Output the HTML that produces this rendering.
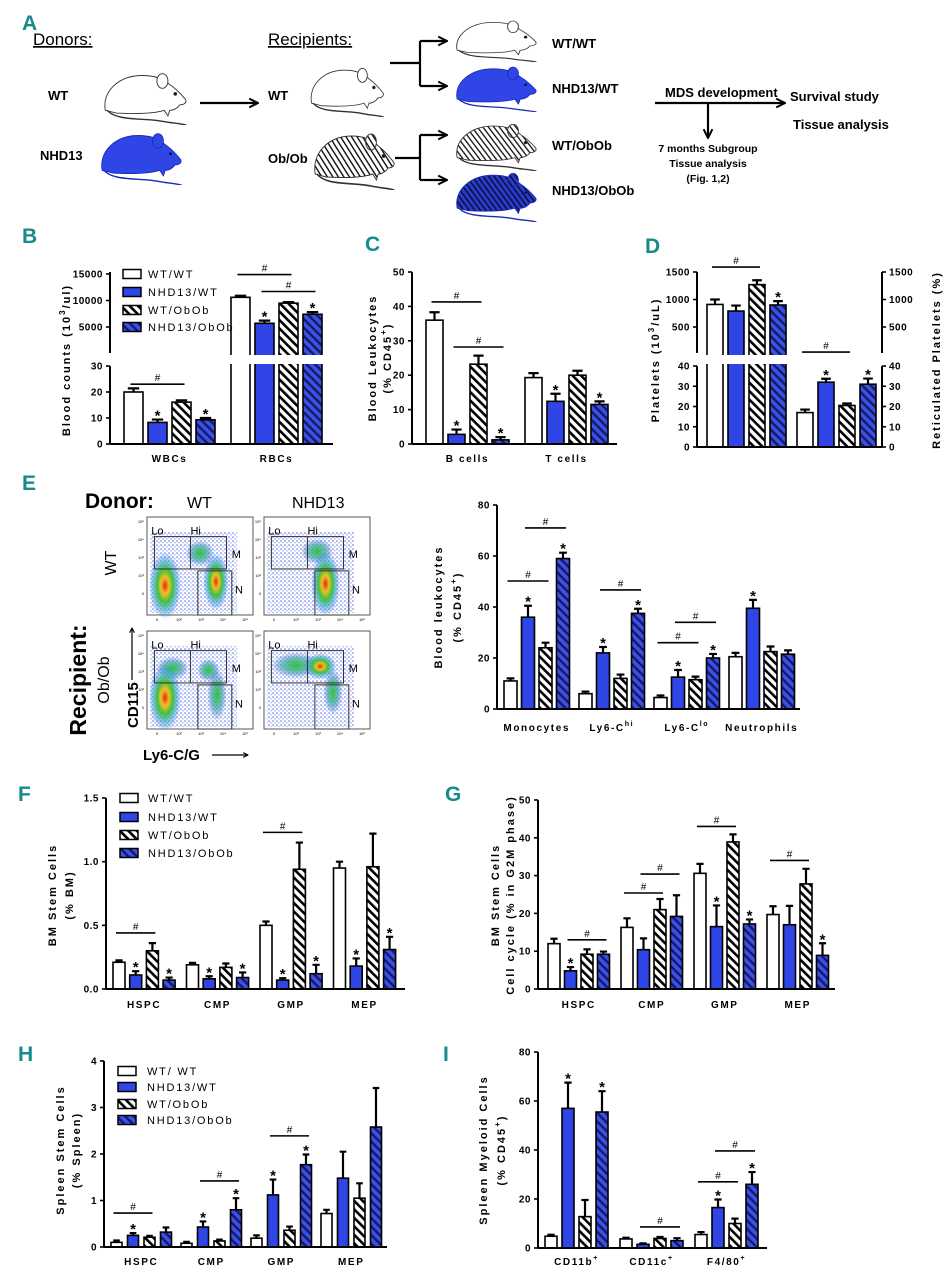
<!DOCTYPE html>
<html><head><meta charset="utf-8">
<style>
body{margin:0;background:#fff;width:951px;height:1280px;overflow:hidden}
svg{display:block;font-family:"Liberation Sans",sans-serif}
.t{font-weight:bold;font-size:10px;letter-spacing:1.6px}
.tk{font-weight:bold;font-size:10px;letter-spacing:0.5px}
.ax{font-weight:bold;font-size:11px;letter-spacing:2px}
.let{font-family:"Liberation Sans Narrow","Liberation Sans",sans-serif;font-weight:bold;font-size:21px;fill:#178a8c}
.lg{font-size:11px;letter-spacing:1.8px}
.na{font-family:"Liberation Sans Narrow","Liberation Sans",sans-serif;font-weight:bold;font-size:13px}
</style></head>
<body>
<svg id="fig" width="951" height="1280" viewBox="0 0 951 1280">
<defs>
<pattern id="hatchW" patternUnits="userSpaceOnUse" width="6" height="6" patternTransform="rotate(-45)">
<rect width="6" height="6" fill="#fff"/><rect width="2.6" height="6" fill="#000"/></pattern>
<pattern id="hatchB" patternUnits="userSpaceOnUse" width="6" height="6" patternTransform="rotate(-45)">
<rect width="6" height="6" fill="#3b50e8"/><rect width="2.4" height="6" fill="#151a60"/></pattern>
<pattern id="hatchM" patternUnits="userSpaceOnUse" width="5" height="5" patternTransform="rotate(-35)">
<rect width="5" height="5" fill="#fff"/><rect width="1.5" height="5" fill="#111"/></pattern>
<pattern id="hatchMB" patternUnits="userSpaceOnUse" width="5" height="5" patternTransform="rotate(-35)">
<rect width="5" height="5" fill="#2a3ccc"/><rect width="1.8" height="5" fill="#0b1040"/></pattern>
<pattern id="dots" patternUnits="userSpaceOnUse" width="4" height="4">
<rect width="4" height="4" fill="#fff"/><circle cx="1" cy="1" r="0.8" fill="#3a5ad8"/><circle cx="3" cy="2.8" r="0.7" fill="#6a86e8"/></pattern>
<radialGradient id="hot"><stop offset="0" stop-color="#e02818"/><stop offset="0.25" stop-color="#f0c020"/><stop offset="0.5" stop-color="#40c040"/><stop offset="0.8" stop-color="#30a0e0" stop-opacity="0.5"/><stop offset="1" stop-color="#3050e0" stop-opacity="0"/></radialGradient>
<radialGradient id="warm"><stop offset="0" stop-color="#38c038"/><stop offset="0.5" stop-color="#40b0a0" stop-opacity="0.8"/><stop offset="1" stop-color="#3050e0" stop-opacity="0"/></radialGradient>
<marker id="ah" viewBox="0 0 10 10" refX="9" refY="5" markerWidth="5" markerHeight="5" orient="auto"><path d="M1,1 L9,5 L1,9" fill="none" stroke="#000" stroke-width="1.8"/></marker>
<symbol id="mouse" viewBox="0 0 100 60" preserveAspectRatio="none">
<path d="M8,44 C4,24 22,6 48,6 C62,6 72,10 78,16 C84,20 90,26 95,32 C97,35 94,38 89,38 C86,42 82,44 78,44 L76,50 L72,44 C60,48 40,48 20,47 Z" stroke-width="1"/>
<ellipse cx="70" cy="12" rx="6" ry="8" stroke-width="1"/>
<circle cx="84" cy="26" r="1.5" fill="#000"/>
<path d="M10,44 C20,56 50,52 70,56 C80,58 88,58 96,60" fill="none" stroke-width="1.6"/>
</symbol>
</defs>

<g>
<text class="let" x="22" y="30">A</text>
<text x="33" y="45" font-size="17" text-decoration="underline">Donors:</text>
<text x="268" y="45" font-size="17" text-decoration="underline">Recipients:</text>
<text class="na" x="48" y="100">WT</text>
<text class="na" x="40" y="160">NHD13</text>
<text class="na" x="268" y="100">WT</text>
<text class="na" x="268" y="163">Ob/Ob</text>
<use href="#mouse" x="98" y="70" width="92" height="55" fill="#fff" stroke="#333"/>
<use href="#mouse" x="95" y="130" width="90" height="55" fill="#2f45e6" stroke="#1a2bb8"/>
<use href="#mouse" x="305" y="65" width="82" height="52" fill="#fff" stroke="#333"/>
<use href="#mouse" x="308" y="130" width="90" height="60" fill="url(#hatchM)" stroke="#333"/>
<use href="#mouse" x="450" y="18" width="90" height="44" fill="#fff" stroke="#333"/>
<use href="#mouse" x="450" y="64" width="90" height="48" fill="#2f45e6" stroke="#1a2bb8"/>
<use href="#mouse" x="450" y="121" width="90" height="50" fill="url(#hatchM)" stroke="#333"/>
<use href="#mouse" x="450" y="170" width="90" height="52" fill="url(#hatchMB)" stroke="#1a2bb8"/>
<line x1="200" y1="103" x2="258" y2="103" stroke="#000" stroke-width="2.2" marker-end="url(#ah)"/>
<g stroke="#000" stroke-width="2.2" fill="none">
<line x1="390" y1="63" x2="420" y2="63"/><line x1="420" y1="41" x2="420" y2="86"/>
<line x1="420" y1="41" x2="447" y2="41" marker-end="url(#ah)"/><line x1="420" y1="86" x2="447" y2="86" marker-end="url(#ah)"/>
<line x1="395" y1="158" x2="420" y2="158"/><line x1="420" y1="135" x2="420" y2="180"/>
<line x1="420" y1="135" x2="447" y2="135" marker-end="url(#ah)"/><line x1="420" y1="180" x2="447" y2="180" marker-end="url(#ah)"/>
<line x1="655" y1="103" x2="785" y2="103" marker-end="url(#ah)"/>
<line x1="708" y1="103" x2="708" y2="138" marker-end="url(#ah)"/>
</g>
<text class="na" x="552" y="48">WT/WT</text>
<text class="na" x="552" y="93">NHD13/WT</text>
<text class="na" x="552" y="150">WT/ObOb</text>
<text class="na" x="552" y="195">NHD13/ObOb</text>
<text class="na" x="665" y="97">MDS development</text>
<text class="na" x="790" y="101">Survival study</text>
<text class="na" x="793" y="129">Tissue analysis</text>
<text x="708" y="152" font-size="10.5" font-weight="bold" text-anchor="middle">7 months Subgroup</text>
<text x="708" y="167" font-size="10.5" font-weight="bold" text-anchor="middle">Tissue analysis</text>
<text x="708" y="182" font-size="10.5" font-weight="bold" text-anchor="middle">(Fig. 1,2)</text>
</g>

<text class="let" x="22" y="243">B</text>
<text class="let" x="365" y="251">C</text>
<text class="let" x="645" y="253">D</text>
<text class="let" x="22" y="490">E</text>
<text class="let" x="18" y="801">F</text>
<text class="let" x="445" y="801">G</text>
<text class="let" x="18" y="1061">H</text>
<text class="let" x="443" y="1061">I</text>

<g>
<text x="85" y="508" font-size="21" font-weight="bold">Donor:</text>
<text x="187" y="508" font-size="16">WT</text>
<text x="292" y="508" font-size="16">NHD13</text>
<text transform="translate(116,563) rotate(-90)" font-size="16" text-anchor="middle">WT</text>
<text transform="translate(86,680) rotate(-90)" font-size="23" font-weight="bold" text-anchor="middle">Recipient:</text>
<text transform="translate(109,680) rotate(-90)" font-size="16" text-anchor="middle">Ob/Ob</text>
<text transform="translate(138,728) rotate(-90)" font-size="15" font-weight="bold" text-anchor="start">CD115</text>
<line x1="132" y1="680" x2="132" y2="628" stroke="#000" stroke-width="1.2" marker-end="url(#ah)"/>
<text x="143" y="760" font-size="15" font-weight="bold">Ly6-C/G</text>
<line x1="212" y1="755" x2="248" y2="755" stroke="#000" stroke-width="1.2" marker-end="url(#ah)"/>
</g>
</svg>

<script>
const SVGNS='http://www.w3.org/2000/svg';
const fig=document.getElementById('fig');
function mk(tag,attrs,parent){const e=document.createElementNS(SVGNS,tag);for(const k in attrs)e.setAttribute(k,attrs[k]);(parent||fig).appendChild(e);return e;}
const FILLS=['#ffffff','#2f45e6','url(#hatchW)','url(#hatchB)'];
const SERIES_NAMES=['wt-wt','nhd13-wt','wt-obob','nhd13-obob'];

const bGroups=['WBCs','RBCs'];
const bVals=[[20,8.3,16.1,9.3],[10600,5700,9500,7400]];
const bErr=[[1.4,1.1,0.7,0.7],[300,500,200,400]];
const bStars=[[0,1],[0,3],[1,1],[1,3]];
const bHash=[[0,0,2,23],[1,0,2,14900],[1,1,3,11700]];
const bTicks=[0,10,20,30,5000,10000,15000];

const cGroups=['B cells','T cells'];
const cVals=[[36,2.8,23.2,1.2],[19.3,12.4,20,11.5]];
const cErr=[[2.3,1.4,2.5,0.8],[1.3,2.2,1.3,0.9]];
const cStars=[[0,1],[0,3],[1,1],[1,3]];
const cHash=[[0,0,2,41.3],[0,1,3,28.2]];
const cTicks=[0,10,20,30,40,50];

const dGroups=['',''];
const dVals=[[910,790,1270,900],[17,32,20.5,31]];
const dErr=[[90,100,80,70],[1.5,1.7,1,2.8]];
const dStars=[[0,3],[1,1],[1,3]];
const dHash=[[0,0,2,1590],[1,0,2,44]];
const dTicks=[0,10,20,30,40,500,1000,1500];

const eGroups=['Monocytes','Ly6-C^hi','Ly6-C^lo','Neutrophils'];
const eVals=[[11,36,24,59],[6,22,12,37.5],[4.5,12.5,11.5,20],[20.5,39.5,22.5,21.5]];
const eErr=[[1,4.5,2,2.3],[0.8,2.3,1.5,1.8],[0.8,2.8,1.2,1.6],[1.5,3.3,2,1.5]];
const eStars=[[0,1],[0,3],[1,1],[1,3],[2,1],[2,3],[3,1]];
const eHash=[[0,0,2,50.2],[0,1,3,71],[1,1,3,46.7],[2,0,2,26],[2,1,3,34]];
const eTicks=[0,20,40,60,80];

const fGroups=['HSPC','CMP','GMP','MEP'];
const fVals=[[0.21,0.11,0.30,0.07],[0.19,0.08,0.17,0.09],[0.50,0.07,0.94,0.12],[0.95,0.18,0.96,0.31]];
const fErr=[[0.015,0.03,0.06,0.02],[0.015,0.02,0.03,0.04],[0.03,0.015,0.21,0.07],[0.05,0.06,0.26,0.1]];
const fStars=[[0,1],[0,3],[1,1],[1,3],[2,1],[2,3],[3,1],[3,3]];
const fHash=[[0,0,2,0.44],[2,0,2,1.23]];
const fTicks=[0,0.5,1.0,1.5];

const gGroups=['HSPC','CMP','GMP','MEP'];
const gVals=[[12,4.8,9.2,9.2],[16.3,10.4,21,19.2],[30.6,16.5,38.9,17.2],[19.7,17,27.8,8.9]];
const gErr=[[1.3,1,1.3,0.7],[2.4,3,2.8,5.6],[2.5,5.6,2,1.2],[2.2,5,4,3.2]];
const gStars=[[0,1],[2,1],[2,3],[3,3]];
const gHash=[[0,1,3,13],[1,0,2,25.4],[1,1,3,30.4],[2,0,2,43],[3,0,2,34]];
const gTicks=[0,10,20,30,40,50];

const hGroups=['HSPC','CMP','GMP','MEP'];
const hVals=[[0.1,0.25,0.21,0.32],[0.08,0.43,0.13,0.8],[0.19,1.12,0.36,1.77],[0.72,1.48,1.05,2.58]];
const hErr=[[0.04,0.05,0.03,0.1],[0.03,0.12,0.03,0.25],[0.06,0.33,0.08,0.22],[0.08,0.57,0.32,0.84]];
const hStars=[[0,1],[1,1],[1,3],[2,1],[2,3]];
const hHash=[[0,0,2,0.73],[1,1,3,1.42],[2,1,3,2.39]];
const hTicks=[0,1,2,3,4];

const iGroups=['CD11b^+','CD11c^+','F4/80^+'];
const iVals=[[4.8,57,12.8,55.5],[3.7,1.5,3.9,3],[5.5,16.5,10,26]];
const iErr=[[0.6,10.5,6.8,8.5],[0.5,0.4,0.6,1],[1,3.3,2,5]];
const iStars=[[0,1],[0,3],[2,1],[2,3]];
const iHash=[[1,1,3,8.6],[2,0,2,27],[2,1,3,39.6]];
const iTicks=[0,20,40,60,80];

const legendNames=['WT/WT','NHD13/WT','WT/ObOb','NHD13/ObOb'];
const legendNamesH=['WT/ WT','NHD13/WT','WT/ObOb','NHD13/ObOb'];

function lin(y0,ytop,vmax){return v=>y0-v*(y0-ytop)/vmax;}
function brokenB(v){return v<=30? 444-v*78/30 : 353.5-v*0.0053;}
function brokenD(v){return v<=40? 447-v*81/40 : 354.5-v*0.055;}

function addLabel(parent,x,y,txt,cls){
  const t=mk('text',{x:x,y:y,'text-anchor':'middle',class:cls},parent);
  const parts=txt.split('^');
  t.appendChild(document.createTextNode(parts[0]));
  if(parts[1]){const s=mk('tspan',{dy:-5,'font-size':7},t);s.textContent=parts[1];}
  return t;
}

function drawChart(name,groups,vals,errs,stars,hashes,ticks,L){
  const g=mk('g',{});
  
  
  const y=L.scale, y0=y(0);
  const bx=(gi,si)=>L.first+gi*L.pitch+si*L.bp;
  groups.forEach((gn,gi)=>{
    vals[gi].forEach((v,si)=>{
      const x=bx(gi,si), yt=y(v);
      const r=mk('rect',{x:x,y:yt,width:L.bw,height:y0-yt,fill:FILLS[si],stroke:'#000','stroke-width':1.6},g);
      
      
      const ye=y(v+errs[gi][si]), cx=x+L.bw/2;
      const eb=mk('path',{d:`M${cx},${yt} L${cx},${ye} M${x+L.bw*0.2},${ye} L${x+L.bw*0.8},${ye}`,stroke:'#000','stroke-width':2.2,fill:'none'},g);
      
      
    });
  });
  if(L.gap){mk('rect',{x:L.axisX+2,y:L.gap[0],width:L.right-L.axisX,height:L.gap[1]-L.gap[0],fill:'#fff'},g);}
  const segs=L.segs||[[y0,y(L.vmax)]];
  segs.forEach(s=>{
    const a=mk('line',{x1:L.axisX,y1:s[0],x2:L.axisX,y2:s[1],stroke:'#000','stroke-width':2},g);
    
    
    if(L.rightAxis){mk('line',{x1:L.rightAxis,y1:s[0],x2:L.rightAxis,y2:s[1],stroke:'#000','stroke-width':2},g);}
  });
  const xa=mk('line',{x1:L.axisX,y1:y0,x2:L.right,y2:y0,stroke:'#000','stroke-width':2},g);
  
  
  ticks.forEach(tv=>{
    const ty=y(tv);
    mk('line',{x1:L.axisX-4,y1:ty,x2:L.axisX,y2:ty,stroke:'#000','stroke-width':1.6},g);
    const lbl=L.dec?tv.toFixed(L.dec):String(tv);
    const t=mk('text',{x:L.axisX-7,y:ty+3.5,'text-anchor':'end',class:'tk'},g);
    t.textContent=lbl;
    
    
    if(L.rightAxis){
      mk('line',{x1:L.rightAxis,y1:ty,x2:L.rightAxis+4,y2:ty,stroke:'#000','stroke-width':1.6},g);
      const t2=mk('text',{x:L.rightAxis+7,y:ty+3.5,class:'tk'},g);
      t2.textContent=lbl;
      
      
    }
  });
  groups.forEach((gn,gi)=>{
    if(!gn)return;
    const cx=bx(gi,0)+(3*L.bp+L.bw)/2;
    const t=addLabel(g,cx,L.labelY,gn,'t');
    
    
  });
  stars.forEach(s=>{
    const gi=s[0],si=s[1];
    const cx=bx(gi,si)+L.bw/2;
    const t=mk('text',{x:cx,y:y(vals[gi][si]+errs[gi][si])+1,'text-anchor':'middle','font-size':15,'font-weight':'bold'},g);
    t.textContent='*';
    
    
  });
  hashes.forEach(h=>{
    const x1=bx(h[0],h[1])+L.bw/2-3, x2=bx(h[0],h[2])+L.bw/2+3, hy=y(h[3]);
    const l=mk('line',{x1:x1,y1:hy,x2:x2,y2:hy,stroke:'#000','stroke-width':1.6},g);
    
    
    const t=mk('text',{x:(x1+x2)/2,y:hy-3,'text-anchor':'middle','font-size':10},g);
    t.textContent='#';
    
    
  });
  (L.titles||[]).forEach(tt=>{
    const t=mk('text',{transform:`translate(${tt[0]},${tt[1]}) rotate(-90)`,'text-anchor':'middle',class:'ax'},g);
    const parts=tt[2].split('^');
    t.appendChild(document.createTextNode(parts[0]));
    if(parts.length>1){const s=mk('tspan',{dy:-5,'font-size':8},t);s.textContent=parts[1];const r=mk('tspan',{dy:5},t);r.textContent=parts[2]||'';}
    
    
  });
  return g;
}

function legend(x,ys,names,tx){
  const g=mk('g',{});
  
  
  names.forEach((n,i)=>{
    const r=mk('rect',{x:x,y:ys[i]-4.5,width:18,height:9,fill:FILLS[i],stroke:'#000','stroke-width':1.5},g);
    
    
    const t=mk('text',{x:tx,y:ys[i]+4,class:'lg'},g);
    t.textContent=n;
    
    
  });
}

drawChart('chart-b-blood-counts',bGroups,bVals,bErr,bStars,bHash,bTicks,
 {scale:brokenB,axisX:110,right:333,first:124,pitch:107,bw:19,bp:24,labelY:462,segs:[[444,366],[353,272]],gap:[355,364],
  titles:[[70,360,'Blood counts (10^3^/ul)']]});
legend(123,[274,292,310,327],legendNames,148);

drawChart('chart-c-blood-leukocytes',cGroups,cVals,cErr,cStars,cHash,cTicks,
 {scale:lin(444,272,50),vmax:50,axisX:412,right:617,first:426,pitch:99,bw:17,bp:22,labelY:462,
  titles:[[376,358,'Blood Leukocytes'],[391,358,'(% CD45^+^)']]});

drawChart('chart-d-platelets',dGroups,dVals,dErr,dStars,dHash,dTicks,
 {scale:brokenD,axisX:697,right:882,rightAxis:882,first:707,pitch:90,bw:16,bp:21,labelY:462,segs:[[447,366],[353,272]],gap:[355,364],
  titles:[[659,360,'Platelets (10^3^/uL)'],[940,360,'Reticulated Platelets (%)']]});

drawChart('chart-e-blood-leukocytes',eGroups,eVals,eErr,eStars,eHash,eTicks,
 {scale:lin(709,505,80),vmax:80,axisX:497,right:800,first:504,pitch:75,bw:13,bp:17.5,labelY:731,
  titles:[[442,607,'Blood leukocytes'],[461,607,'(% CD45^+^)']]});

drawChart('chart-f-bm-stem-cells',fGroups,fVals,fErr,fStars,fHash,fTicks,
 {scale:lin(989,798,1.5),vmax:1.5,dec:1,axisX:106,right:405,first:113,pitch:73.5,bw:12,bp:16.7,labelY:1008,
  titles:[[56,895,'BM Stem Cells'],[73,895,'(% BM)']]});
legend(120,[798,817,835,853],legendNames,148);

drawChart('chart-g-cell-cycle',gGroups,gVals,gErr,gStars,gHash,gTicks,
 {scale:lin(989,800,50),vmax:50,axisX:538,right:835,first:548,pitch:73,bw:12,bp:16.5,labelY:1008,
  titles:[[499,895,'BM Stem Cells'],[514,895,'Cell cycle (% in G2M phase)']]});

drawChart('chart-h-spleen-stem-cells',hGroups,hVals,hErr,hStars,hHash,hTicks,
 {scale:lin(1247,1061,4),vmax:4,axisX:104,right:387,first:111,pitch:70,bw:11,bp:16.5,labelY:1265,
  titles:[[64,1150,'Spleen Stem Cells'],[80,1150,'(% Spleen)']]});
legend(118,[1071,1087,1104,1120],legendNamesH,147);

drawChart('chart-i-spleen-myeloid',iGroups,iVals,iErr,iStars,iHash,iTicks,
 {scale:lin(1248,1052,80),vmax:80,axisX:538,right:767,first:545,pitch:75,bw:12,bp:17,labelY:1265,
  titles:[[487,1150,'Spleen Myeloid Cells'],[505,1150,'(% CD45^+^)']]});

const flowBoxes=[[147,517,'wt-wt'],[264,517,'nhd13-wt'],[147,631,'wt-obob'],[264,631,'nhd13-obob']];
const flowBlobs=[
 [[0.17,0.7,0.1,0.26,1],[0.65,0.66,0.08,0.22,1],[0.5,0.37,0.09,0.1,0.3]],
 [[0.5,0.35,0.1,0.1,0.7],[0.58,0.68,0.09,0.25,1]],
 [[0.24,0.38,0.1,0.09,0.6],[0.58,0.4,0.07,0.09,0.6],[0.17,0.68,0.1,0.26,1],[0.66,0.65,0.06,0.2,0.6]],
 [[0.3,0.35,0.15,0.1,0.6],[0.53,0.36,0.1,0.1,1],[0.65,0.62,0.06,0.18,0.6]]];
flowBoxes.forEach((b,i)=>{
  const [x,y,nm]=b, w=106, h=98;
  const g=mk('g',{});
  
  
  mk('rect',{x:x,y:y,width:w,height:h,fill:'#fff',stroke:'#555','stroke-width':1},g);
  mk('rect',{x:x+3,y:y+0.15*h,width:w*0.82,height:h*0.83,fill:'url(#dots)',opacity:0.85},g);
  flowBlobs[i].forEach(bl=>{
    mk('ellipse',{cx:x+bl[0]*w,cy:y+bl[1]*h,rx:bl[2]*w*1.5,ry:bl[3]*h*1.3,fill:bl[4]>0.8?'url(#hot)':'url(#warm)'},g);
  });
  mk('rect',{x:x+0.07*w,y:y+0.2*h,width:0.68*w,height:0.33*h,fill:'none',stroke:'#333','stroke-width':1},g);
  mk('line',{x1:x+0.41*w,y1:y+0.2*h,x2:x+0.41*w,y2:y+0.53*h,stroke:'#333','stroke-width':1},g);
  mk('rect',{x:x+0.48*w,y:y+0.55*h,width:0.32*w,height:0.45*h,fill:'none',stroke:'#333','stroke-width':1},g);
  [['Lo',0.04,0.18],['Hi',0.41,0.18],['M',0.8,0.42],['N',0.83,0.78]].forEach(l=>{
    const t=mk('text',{x:x+l[1]*w,y:y+l[2]*h,'font-size':11},g);
    t.textContent=l[0];
    
    
  });
  ['10⁵','10⁴','10³','10²','0'].forEach((s,k)=>{
    const t=mk('text',{x:x-3,y:y+6+k*18,'font-size':4,'text-anchor':'end'},g);
    t.textContent=s;
  });
  ['0','10²','10³','10⁴','10⁵'].forEach((s,k)=>{
    const t=mk('text',{x:x+10+k*22,y:y+h+6,'font-size':4,'text-anchor':'middle'},g);
    t.textContent=s;
  });
});
</script>
</body></html>
